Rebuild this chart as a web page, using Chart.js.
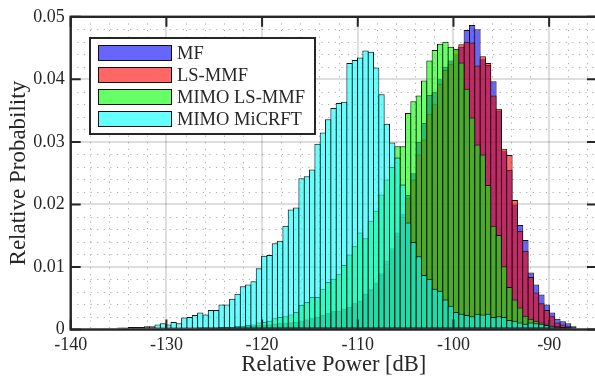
<!DOCTYPE html>
<html>
<head>
<meta charset="utf-8">
<script src="https://cdn.jsdelivr.net/npm/chart.js@4"></script>
<style>
  html, body { margin: 0; padding: 0; background: #fff; overflow: hidden; }
  #wrap { width: 598px; height: 381px; }
</style>
</head>
<body>
<div id="wrap"><canvas id="histChart" width="598" height="381"></canvas></div>
<script>
// histogram bins (shared edges), ~0.557 dB wide
const binWidth = 0.557;
const firstEdge = -136.762;
const seriesNames = ["MF", "LS-MMF", "MIMO LS-MMF", "MIMO MiCRFT"];

const mf = [
  0, 0, 0, 0, 0.0001, 0.0001, 0.0001, 0.0001, 0.0001, 0.0001,
  0.0001, 0.0001, 0.0001, 0.0002, 0.0002, 0.0002, 0.0002, 0.0002, 0.0003, 0.0003,
  0.0003, 0.0003, 0.0004, 0.0004, 0.0004, 0.0005, 0.0005, 0.0006, 0.0006, 0.0007,
  0.0007, 0.0008, 0.0009, 0.001, 0.001, 0.0011, 0.0012, 0.0014, 0.0016, 0.0018,
  0.002, 0.0023, 0.0026, 0.0029, 0.003, 0.0033, 0.0036, 0.0042, 0.0046, 0.0057,
  0.0065, 0.0075, 0.009, 0.011, 0.013, 0.0155, 0.0185, 0.0215, 0.025, 0.03,
  0.033, 0.0375, 0.038, 0.04, 0.042, 0.043, 0.044, 0.0452, 0.0479, 0.0487,
  0.048, 0.0432, 0.0423, 0.0397, 0.035, 0.0285, 0.0255, 0.02, 0.0167, 0.0143,
  0.0091, 0.0072, 0.0056, 0.004, 0.0027, 0.0017, 0.0013, 0.001, 0.0005
];
const lsMmf = [
  0, 0, 0, 0, 0.0001, 0.0001, 0.0001, 0.0001, 0.0001, 0.0001,
  0.0001, 0.0001, 0.0001, 0.0002, 0.0002, 0.0002, 0.0002, 0.0002, 0.0003, 0.0003,
  0.0003, 0.0003, 0.0004, 0.0004, 0.0004, 0.0005, 0.0005, 0.0006, 0.0006, 0.0007,
  0.0007, 0.0008, 0.0009, 0.001, 0.001, 0.0011, 0.0012, 0.0014, 0.0016, 0.0018,
  0.002, 0.0023, 0.0026, 0.0029, 0.003, 0.0033, 0.0036, 0.0042, 0.0046, 0.0057,
  0.0063, 0.0073, 0.0087, 0.0105, 0.0125, 0.015, 0.018, 0.021, 0.024, 0.028,
  0.0304, 0.0345, 0.036, 0.0393, 0.0415, 0.0425, 0.0448, 0.0456, 0.046, 0.0459,
  0.0422, 0.0437, 0.0426, 0.0374, 0.0353, 0.0289, 0.0279, 0.0207, 0.0158, 0.0126,
  0.0084, 0.0059, 0.0042, 0.0031, 0.0021, 0.0011, 0.0008, 0.0005, 0.0002
];
const mimoLsMmf = [
  0, 0, 0, 0, 0, 0, 0, 0, 0, 0,
  0.0001, 0.0001, 0.0001, 0.0001, 0.0001, 0.0001, 0.0001, 0.0001, 0.0001, 0.0001,
  0.0002, 0.0002, 0.0003, 0.0003, 0.0004, 0.0005, 0.0006, 0.0007, 0.0008, 0.0011,
  0.0012, 0.0014, 0.0018, 0.002, 0.0021, 0.0024, 0.0028, 0.0039, 0.0044, 0.0052,
  0.0052, 0.0065, 0.0076, 0.0081, 0.0089, 0.0103, 0.012, 0.0134, 0.0155, 0.0146,
  0.0174, 0.019, 0.0216, 0.024, 0.026, 0.0293, 0.0293, 0.0346, 0.0365, 0.0374,
  0.0398, 0.043, 0.0447, 0.0457, 0.046, 0.0452, 0.0449, 0.0427, 0.0385, 0.0339,
  0.0296, 0.028, 0.0231, 0.0166, 0.0151, 0.0101, 0.0068, 0.0048, 0.0035, 0.0022,
  0.0017, 0.0014, 0.0011, 0.0008, 0.0006, 0.0004, 0.0003, 0.0002, 0.0001
];
const mimoMicrft = [
  0.0001, 0.0002, 0.0002, 0.0003, 0.0003, 0.0004, 0.0004, 0.0004, 0.0005, 0.0005,
  0.0008, 0.001, 0.0008, 0.0012, 0.001, 0.0019, 0.002, 0.0023, 0.0027, 0.0024,
  0.0031, 0.0031, 0.004, 0.004, 0.0049, 0.0057, 0.0069, 0.0072, 0.0077, 0.0098,
  0.0118, 0.0119, 0.0138, 0.0142, 0.0166, 0.0192, 0.0195, 0.0242, 0.0245, 0.0256,
  0.0297, 0.0315, 0.0336, 0.0354, 0.0362, 0.0364, 0.0426, 0.0431, 0.0435, 0.0446,
  0.0444, 0.0419, 0.0376, 0.0329, 0.0299, 0.0275, 0.0232, 0.0171, 0.014, 0.0117,
  0.0087, 0.0081, 0.0065, 0.0062, 0.0048, 0.0038, 0.0028, 0.0025, 0.0023, 0.0021,
  0.0025, 0.0024, 0.0025, 0.002, 0.0021, 0.002, 0.0015, 0.0014, 0.0011, 0.0009,
  0.0011, 0.001, 0.0009, 0.0007, 0.0006, 0.0005, 0.0004, 0.0003, 0.0002
];

const xTicks = [-140, -130, -120, -110, -100, -90];
const yTicks = [0, 0.01, 0.02, 0.03, 0.04, 0.05];
const xMinor = [-138, -136, -134, -132, -128, -126, -124, -122, -118, -116, -114, -112,
  -108, -106, -104, -102, -98, -96, -94, -92, -88, -86];
const yMinor = [0.002, 0.004, 0.006, 0.008, 0.012, 0.014, 0.016, 0.018, 0.022, 0.024,
  0.026, 0.028, 0.032, 0.034, 0.036, 0.038, 0.042, 0.044, 0.046, 0.048];

const binCenters = mf.map((_, i) => firstEdge + (i + 0.5) * binWidth);

const fills = ["rgba(0,0,255,0.6)", "rgba(255,0,0,0.6)", "rgba(0,255,0,0.6)", "rgba(0,255,255,0.6)"];
const serif = "'Liberation Serif', 'DejaVu Serif', serif";
const ink = "#262626";

function toPoints(values) {
  return values.map((y, i) => ({ x: binCenters[i], y: y }));
}

// dotted minor grid under everything
const minorGrid = {
  id: "minorGrid",
  beforeDraw(chart) {
    const { ctx, chartArea: a, scales: { x, y } } = chart;
    ctx.save();
    ctx.strokeStyle = "rgba(0,0,0,0.32)";
    ctx.lineWidth = 1;
    ctx.setLineDash([1.2, 5.4]);
    xMinor.forEach(v => {
      const px = Math.round(x.getPixelForValue(v)) + 0.5;
      ctx.beginPath(); ctx.moveTo(px, a.top); ctx.lineTo(px, a.bottom); ctx.stroke();
    });
    yMinor.forEach(v => {
      const py = Math.round(y.getPixelForValue(v)) + 0.5;
      ctx.beginPath(); ctx.moveTo(a.left, py); ctx.lineTo(a.right, py); ctx.stroke();
    });
    ctx.restore();
  }
};

// box around the axes with inward ticks, and the legend box
const frameAndLegend = {
  id: "frameAndLegend",
  afterDatasetsDraw(chart) {
    const { ctx, chartArea: a, scales: { x, y } } = chart;
    ctx.save();
    ctx.strokeStyle = ink;
    ctx.lineWidth = 2.4;
    ctx.strokeRect(a.left, a.top, a.right - a.left, a.bottom - a.top);
    ctx.lineWidth = 2;
    xTicks.forEach(v => {
      const px = x.getPixelForValue(v);
      ctx.beginPath();
      ctx.moveTo(px, a.bottom); ctx.lineTo(px, a.bottom - 10);
      ctx.moveTo(px, a.top); ctx.lineTo(px, a.top + 10);
      ctx.stroke();
    });
    yTicks.forEach(v => {
      const py = y.getPixelForValue(v);
      ctx.beginPath();
      ctx.moveTo(a.left, py); ctx.lineTo(a.left + 10, py);
      ctx.moveTo(a.right, py); ctx.lineTo(a.right - 10, py);
      ctx.stroke();
    });

    // legend
    const lx = 90, ly = 38, lw = 225, lh = 96;
    ctx.fillStyle = "#fff";
    ctx.fillRect(lx, ly, lw, lh);
    ctx.lineWidth = 2;
    ctx.strokeStyle = ink;
    ctx.strokeRect(lx, ly, lw, lh);
    ctx.font = "18.5px " + serif;
    ctx.textBaseline = "middle";
    seriesNames.forEach((name, i) => {
      const cy = 53 + i * 22;
      ctx.fillStyle = fills[i];
      ctx.fillRect(98.5, cy - 7.5, 73, 15);
      ctx.lineWidth = 1;
      ctx.strokeStyle = "#111";
      ctx.strokeRect(98.5, cy - 7.5, 73, 15);
      ctx.fillStyle = ink;
      ctx.fillText(name, 177, cy + 1);
    });
    ctx.restore();
  }
};

const order = [4, 3, 2, 1]; // MiCRFT drawn last (on top)
const allSeries = [mf, lsMmf, mimoLsMmf, mimoMicrft];

new Chart(document.getElementById("histChart"), {
  type: "bar",
  data: {
    datasets: allSeries.map((vals, i) => ({
      label: seriesNames[i],
      data: toPoints(vals),
      backgroundColor: fills[i],
      borderColor: "#121212",
      borderWidth: 1,
      borderSkipped: false,
      order: order[i]
    }))
  },
  options: {
    responsive: false,
    animation: false,
    devicePixelRatio: 1,
    layout: { padding: { top: 15, right: 1, left: 0, bottom: 0 } },
    datasets: {
      bar: { grouped: false, barPercentage: 1.19, categoryPercentage: 1 }
    },
    plugins: {
      legend: { display: false },
      tooltip: { enabled: false }
    },
    scales: {
      x: {
        type: "linear",
        min: -140,
        max: -85,
        offset: false,
        ticks: {
          stepSize: 10,
          includeBounds: false,
          padding: 5,
          color: ink,
          font: { family: serif, size: 18 },
          callback: v => String(v)
        },
        grid: { offset: false, color: "rgba(0,0,0,0.13)", lineWidth: 2, drawTicks: false },
        border: { display: false },
        title: {
          display: true,
          text: "Relative Power [dB]",
          color: ink,
          font: { family: serif, size: 22.5 },
          padding: { top: 0, bottom: 2 }
        },
        afterFit: s => { s.height = 51.5; }
      },
      y: {
        min: 0,
        max: 0.05,
        ticks: {
          stepSize: 0.01,
          padding: 6,
          color: ink,
          font: { family: serif, size: 18 },
          callback: v => (v === 0 ? "0" : v.toFixed(2))
        },
        grid: { color: "rgba(0,0,0,0.13)", lineWidth: 2, drawTicks: false },
        border: { display: false },
        title: {
          display: true,
          text: "Relative Probability",
          color: ink,
          font: { family: serif, size: 23 },
          padding: { top: 5, bottom: 0 }
        },
        afterFit: s => { s.width = 70.7; }
      }
    }
  },
  plugins: [minorGrid, frameAndLegend]
});
</script>
</body>
</html>
